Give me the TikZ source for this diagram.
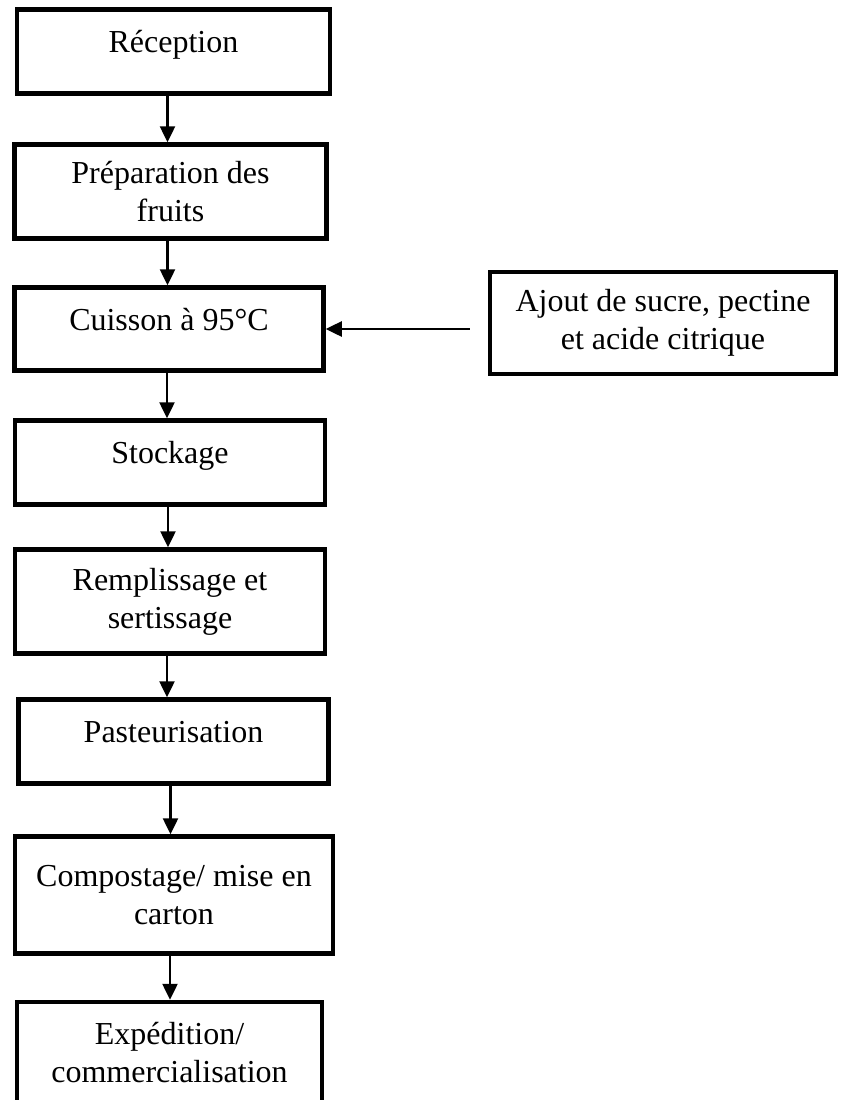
\documentclass[tikz,border=0pt]{standalone}
\usepackage{fontspec}
\setmainfont{Liberation Serif}
\usetikzlibrary{arrows.meta}

\begin{document}
\begin{tikzpicture}[x=1pt,y=-1pt,
		box/.style={draw, line width=4.5pt, align=center, font=\fontsize{32pt}{38pt}\selectfont},
		single/.style={text height=22pt, text depth=20pt},
		flow/.style={line width=2.5pt, -{Triangle[length=16pt,width=15pt]}}]
			\useasboundingbox (0,0) rectangle (843,1100);
			% process steps, top to bottom
			\node[box, single, minimum width=313pt, minimum height=84pt] (rec) at (173.5,51.5) {Réception};
			\node[box, minimum width=312pt, minimum height=94pt] (prep) at (170.5,191.5) {Préparation des\\fruits};
			\node[box, single, minimum width=309pt, minimum height=83pt] (cuis) at (169,329) {Cuisson à 95°C};
			\node[box, minimum width=346pt, minimum height=102pt] (ajout) at (663,323) {Ajout de sucre, pectine\\et acide citrique};
			\node[box, single, minimum width=310pt, minimum height=84pt] (stock) at (170,462.5) {Stockage};
			\node[box, minimum width=310pt, minimum height=104pt] (rempl) at (170,601.5) {Remplissage et\\sertissage};
			\node[box, single, minimum width=310pt, minimum height=84pt] (past) at (173.5,741.5) {Pasteurisation};
			\node[box, minimum width=318pt, minimum height=117pt] (comp) at (174,895) {Compostage/ mise en\\carton};
			\node[box, minimum width=305pt, minimum height=102pt] (exped) at (169.5,1053) {Expédition/\\commercialisation};
			% arrows
			\draw[flow] ([xshift=-6pt,yshift=3pt]rec.south) -- ([xshift=-6pt]rec.south |- prep.north);
			\draw[flow] ([xshift=-3pt,yshift=3pt]prep.south) -- ([xshift=-3pt]prep.south |- cuis.north);
			\draw[flow] ([xshift=-2pt,yshift=3pt]cuis.south) -- ([xshift=-2pt]cuis.south |- stock.north);
			\draw[flow] ([xshift=-2pt,yshift=3pt]stock.south) -- ([xshift=-2pt]stock.south |- rempl.north);
			\draw[flow] ([xshift=-3pt,yshift=3pt]rempl.south) -- ([xshift=-3pt]rempl.south |- past.north);
			\draw[flow] ([xshift=-3pt]past.south) -- ([xshift=-3pt]past.south |- comp.north);
			\draw[flow] ([xshift=-4pt,yshift=3pt]comp.south) -- ([xshift=-4pt]comp.south |- exped.north);
			\draw[flow] ([xshift=-18pt]ajout.west |- cuis.east) -- (cuis.east);
\end{tikzpicture}
\end{document}
